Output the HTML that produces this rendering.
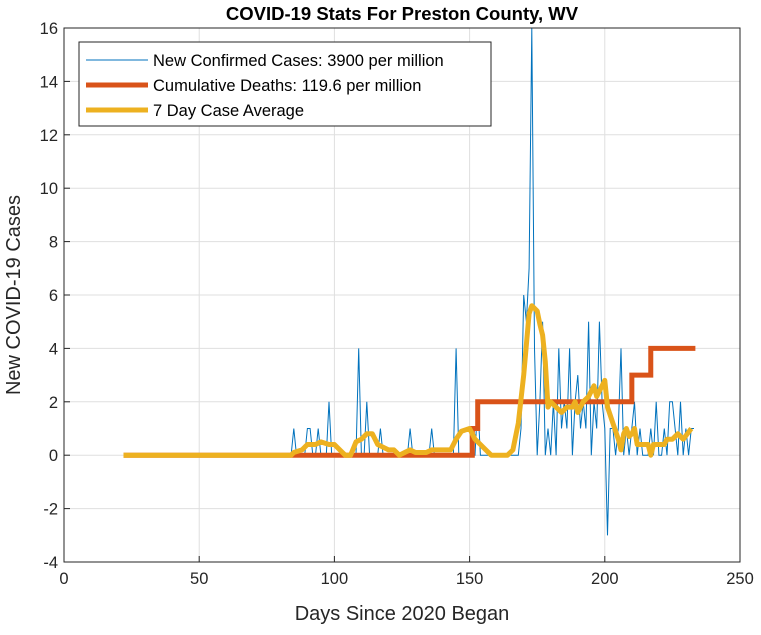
<!DOCTYPE html>
<html><head><meta charset="utf-8"><style>
body{margin:0;background:#fff;font-family:"Liberation Sans",Arial,sans-serif}
svg text{font-family:"Liberation Sans",Arial,sans-serif}
</style></head><body>
<svg id="c" width="761" height="630" xmlns="http://www.w3.org/2000/svg">
<rect width="761" height="630" fill="#fff"/>
<g id="grid"></g>
<g id="series"></g>
<rect x="64" y="28" width="676" height="534" fill="none" stroke="#262626" stroke-width="1"/>
<g id="ticks"></g>
<text x="402" y="20" text-anchor="middle" font-size="18.5" font-weight="bold" fill="#000">COVID-19 Stats For Preston County, WV</text>
<text x="402" y="620" text-anchor="middle" font-size="20" fill="#262626">Days Since 2020 Began</text>
<text transform="translate(20,295) rotate(-90)" text-anchor="middle" font-size="20" fill="#262626">New COVID-19 Cases</text>
<g>
<rect x="79" y="42" width="412" height="84" fill="#fff" stroke="#262626" stroke-width="1"/>
<line x1="86" y1="60" x2="148" y2="60" stroke="#0072BD" stroke-width="1"/>
<text x="153" y="66" font-size="16.5" fill="#000">New Confirmed Cases: 3900 per million</text>
<line x1="86" y1="85" x2="148" y2="85" stroke="#D95319" stroke-width="5"/>
<text x="153" y="91" font-size="16.5" fill="#000">Cumulative Deaths: 119.6 per million</text>
<line x1="86" y1="110" x2="148" y2="110" stroke="#EDB120" stroke-width="5"/>
<text x="153" y="116" font-size="16.5" fill="#000">7 Day Case Average</text>
</g>
</svg>
<script>
const xTicks=[0,50,100,150,200,250];
const yTicks=[-4,-2,0,2,4,6,8,10,12,14,16];
const caseStartDay=22;
const dailyCases=[
0,0,0,0,0,0,0,0,0,0, 0,0,0,0,0,0,0,0,0,0, 0,0,0,0,0,0,0,0,0,0,
0,0,0,0,0,0,0,0,0,0, 0,0,0,0,0,0,0,0,0,0, 0,0,0,0,0,0,0,0,0,0, 0,0,0,
1,0,0,0,0,1,1,0,0,1,0,0,0,2,0,0,0,0,0,0,0,0,0,0,4,0,0,2,0,0,0,0,1,0,
0,0,0,0,0,0,0,0,0,1,0,0,0,0,0,0,0,1,0,0,0,0,0,0,0,0,4,0,0,0,0,0,0,
0,2,0,0,0,0,0,0,0,0,0,0,0,0,0,0,0,1,6,5,7,16,4,0,2,5,0,1,0,2,0,4,1,2,1,4,0,2,3,1,2,1,5,0,2,1,5,2,1,-3,1,1,0,1,4,0,1,0,1,2,0,1,0,0,0,1,0,2,0,0,1,0,2,2,1,0,2,0,1,0,1,1];
const deathDays=[22,151,153,210,217,233];
const deathValues=[0,1,2,3,4,4];
const avgDays=[22,84,85,88,90,93,95,98,100,102,104,106,108,110,112,114,116,118,120,122,124,126,128,130,132,134,136,140,143,145,147,150,152,154,156,158,162,164,166,168,170,172,173,175,176,177,178,179,180,182,184,186,188,189,190,192,194,196,197,198,200,201,203,205,206,207,208,209,210,211,212,214,216,217,218,220,222,223,225,227,229,232];
const avgValues=[0,0,0.1,0.2,0.4,0.4,0.5,0.4,0.4,0.2,0,0,0.5,0.6,0.8,0.8,0.4,0.3,0.2,0.2,0,0.1,0.2,0.1,0.1,0.1,0.2,0.2,0.2,0.6,0.9,1.0,0.6,0.4,0.2,0,0,0,0.2,1.2,3,5.3,5.6,5.4,4.9,4.5,3.5,1.8,2.0,1.8,1.6,1.8,1.8,2.0,1.6,2.0,2.2,2.6,2.2,2.4,2.8,1.8,1.2,0.6,0.2,0.8,1.0,0.7,0.8,1.0,0.4,0.4,0.4,0,0.4,0.4,0.4,0.6,0.6,0.8,0.6,1.0];
const NS='http://www.w3.org/2000/svg';
const X0=64,X1=740,Y0=562,Y1=28;
function xs(d){return X0+(d-0)/(250-0)*(X1-X0);}
function ys(v){return Y0-(v+4)/20*(Y0-Y1);}
const grid=document.getElementById('grid'),ticks=document.getElementById('ticks'),ser=document.getElementById('series');
function mk(tag,at,parent){const e=document.createElementNS(NS,tag);for(const k in at)e.setAttribute(k,at[k]);parent.appendChild(e);return e;}
xTicks.forEach(t=>{
 const g=mk('line',{x1:xs(t),x2:xs(t),y1:Y1,y2:Y0,stroke:'#dfdfdf','stroke-width':1},grid);
 
 
 const tk=mk('line',{x1:xs(t),x2:xs(t),y1:Y0,y2:Y0-6,stroke:'#262626'},ticks);
 
 
 const tx=mk('text',{x:xs(t),y:Y0+22,'text-anchor':'middle','font-size':16.5,fill:'#262626'},ticks);
 tx.textContent=t;
 
 
});
yTicks.forEach(t=>{
 const g=mk('line',{x1:X0,x2:X1,y1:ys(t),y2:ys(t),stroke:'#dfdfdf','stroke-width':1},grid);
 
 
 const tk=mk('line',{x1:X0,x2:X0+6,y1:ys(t),y2:ys(t),stroke:'#262626'},ticks);
 
 
 const tx=mk('text',{x:X0-6,y:ys(t)+6,'text-anchor':'end','font-size':16.5,fill:'#262626'},ticks);
 tx.textContent=t;
 
 
});
const cp=dailyCases.map((v,i)=>xs(caseStartDay+i).toFixed(1)+','+ys(v).toFixed(1)).join(' ');
const l1=mk('polyline',{points:cp,fill:'none',stroke:'#0072BD','stroke-width':1},ser);


let dp=[];
deathDays.forEach((d,i)=>{ if(i>0) dp.push(xs(d)+','+ys(deathValues[i-1])); dp.push(xs(d)+','+ys(deathValues[i])); });
dp[dp.length-1]=xs(233.5)+','+ys(deathValues[deathValues.length-1]);
const l2=mk('polyline',{points:dp.join(' '),fill:'none',stroke:'#D95319','stroke-width':5},ser);


const ap=avgDays.map((d,i)=>xs(d).toFixed(1)+','+ys(avgValues[i]).toFixed(1)).join(' ');
const l3=mk('polyline',{points:ap,fill:'none',stroke:'#EDB120','stroke-width':5,'stroke-linejoin':'round'},ser);


</script>
</body></html>
